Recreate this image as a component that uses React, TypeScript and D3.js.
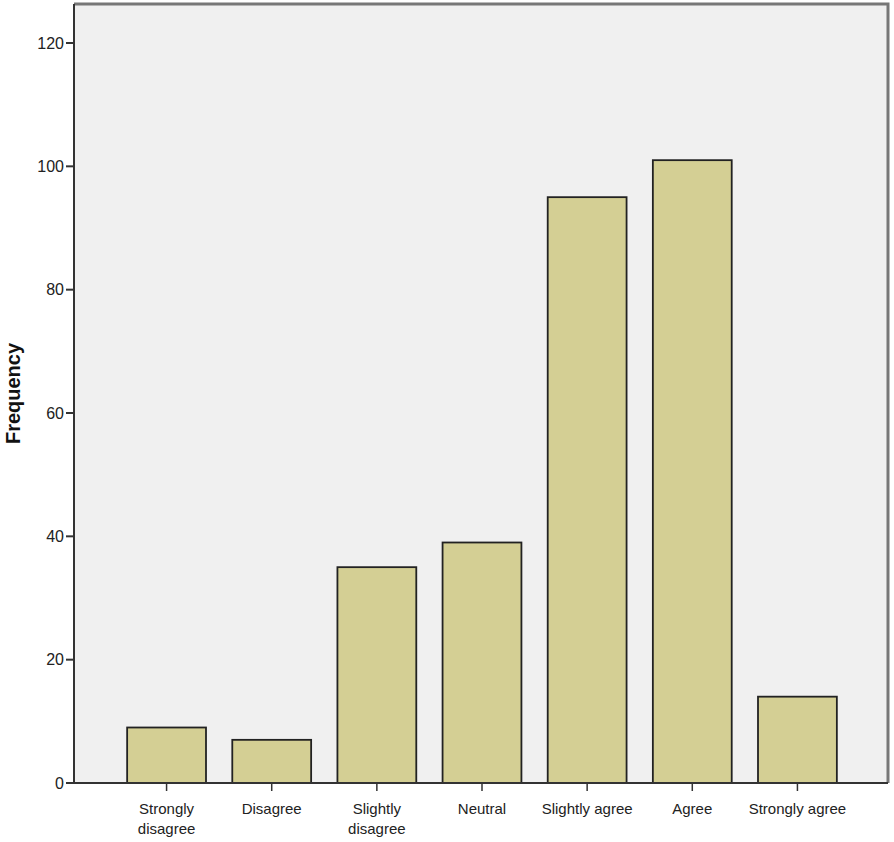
import React from "react";
import * as d3 from "d3";

const categories = [
  "Strongly disagree",
  "Disagree",
  "Slightly disagree",
  "Neutral",
  "Slightly agree",
  "Agree",
  "Strongly agree",
];
const frequencies = [9, 7, 35, 39, 95, 101, 14];
const yTicks = [0, 20, 40, 60, 80, 100, 120];
// how each category label wraps on the axis
const labelLines = [
  ["Strongly", "disagree"],
  ["Disagree"],
  ["Slightly", "disagree"],
  ["Neutral"],
  ["Slightly agree"],
  ["Agree"],
  ["Strongly agree"],
];

export default function App() {
  const ref = React.useRef<SVGSVGElement>(null);

  React.useEffect(() => {
    drawChart();
  }, []);

  function drawChart() {
    const width = 894;
    const height = 842;
    const plot = { left: 74, right: 888, top: 4, bottom: 783 };

    const svg = d3.select(ref.current);
    svg.selectAll("*").remove();

    const x = d3
      .scaleBand()
      .domain(categories)
      .range([114, 850])
      .paddingInner(0.25)
      .paddingOuter(0.125);
    const y = d3
      .scaleLinear()
      .domain([0, 120])
      .range([plot.bottom, 43]);

    // plot background
    svg.append("rect")
      .attr("x", plot.left)
      .attr("y", plot.top)
      .attr("width", plot.right - plot.left)
      .attr("height", plot.bottom - plot.top)
      .attr("fill", "#f0f0f0");

    // frame top and right
    svg.append("path")
      .attr("d", `M${plot.left},${plot.top}H${plot.right}V${plot.bottom}`)
      .attr("fill", "none")
      .attr("stroke", "#777")
      .attr("stroke-width", 3);

    svg.selectAll("rect.bar")
      .data(frequencies)
      .enter()
      .append("rect")
      .attr("class", "bar")
      .attr("x", (d, i) => x(categories[i]) as number)
      .attr("y", (d) => y(d))
      .attr("width", x.bandwidth())
      .attr("height", (d) => y(0) - y(d))
      .attr("fill", "#d4cf94")
      .attr("stroke", "#222")
      .attr("stroke-width", 1.8);

    // y axis
    const yAxis = svg.append("g").attr("transform", `translate(${plot.left},0)`);
    yAxis.append("line")
      .attr("x1", 0).attr("x2", 0)
      .attr("y1", plot.top).attr("y2", plot.bottom)
      .attr("stroke", "#333").attr("stroke-width", 2);
    yTicks.forEach((t) => {
      yAxis.append("line")
        .attr("x1", -8).attr("x2", 0)
        .attr("y1", y(t)).attr("y2", y(t))
        .attr("stroke", "#333").attr("stroke-width", 2);
      yAxis.append("text")
        .attr("x", -10)
        .attr("y", y(t))
        .attr("dy", "0.35em")
        .attr("text-anchor", "end")
        .attr("font-family", "Liberation Sans, Arial, sans-serif")
        .attr("font-size", 16)
        .attr("fill", "#222")
        .text(t);
    });

    // x axis
    const xAxis = svg.append("g");
    xAxis.append("line")
      .attr("x1", plot.left).attr("x2", plot.right)
      .attr("y1", plot.bottom).attr("y2", plot.bottom)
      .attr("stroke", "#333").attr("stroke-width", 2);
    categories.forEach((c, i) => {
      const cx = (x(c) as number) + x.bandwidth() / 2;
      xAxis.append("line")
        .attr("x1", cx).attr("x2", cx)
        .attr("y1", plot.bottom).attr("y2", plot.bottom + 8)
        .attr("stroke", "#333").attr("stroke-width", 1.5);
      labelLines[i].forEach((line, j) => {
        xAxis.append("text")
          .attr("x", cx)
          .attr("y", 814 + j * 20)
          .attr("text-anchor", "middle")
          .attr("font-family", "Liberation Sans, Arial, sans-serif")
          .attr("font-size", 15)
          .attr("fill", "#222")
          .text(line);
      });
    });

    svg.append("text")
      .attr("transform", `translate(20,${(plot.top + plot.bottom) / 2}) rotate(-90)`)
      .attr("text-anchor", "middle")
      .attr("font-family", "Liberation Sans, Arial, sans-serif")
      .attr("font-size", 20)
      .attr("font-weight", "bold")
      .attr("fill", "#111")
      .text("Frequency");

    svg.attr("width", width).attr("height", height);
  }

  return (
    <svg
      ref={ref}
      width={894}
      height={842}
      style={{ position: "absolute", left: 0, top: 0 }}
    />
  );
}
